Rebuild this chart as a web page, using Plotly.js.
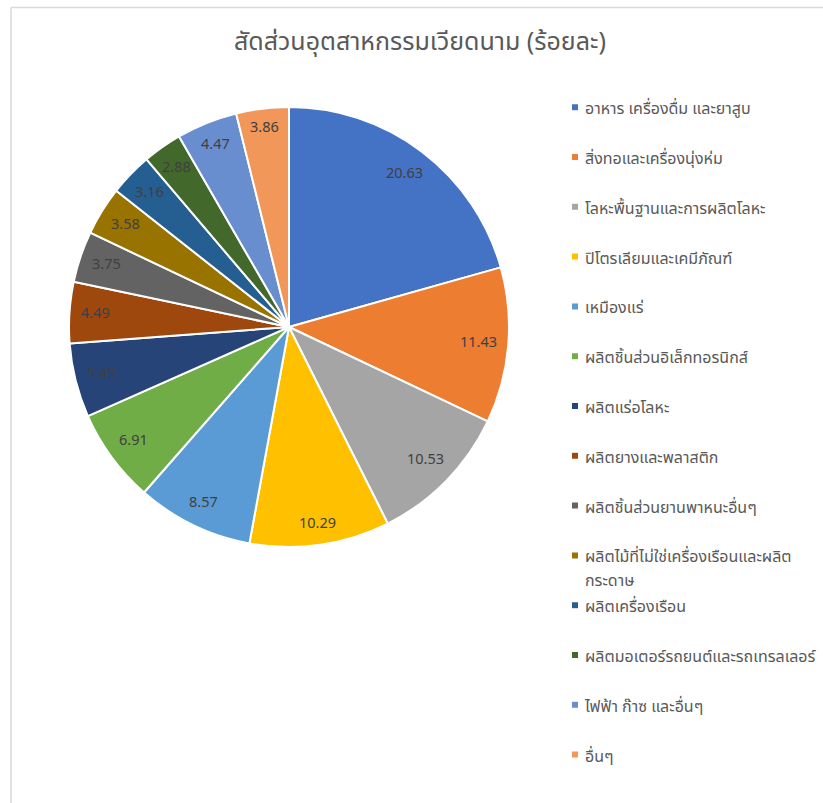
<!DOCTYPE html>
<html>
<head>
<meta charset="utf-8">
<script src="https://cdn.plot.ly/plotly-3.0.1.min.js"></script>
<style>html,body{margin:0;padding:0;background:#fff;}#chart{width:823px;height:803px;}</style>
</head>
<body>
<div id="chart"></div>
<script>
const chartTitle = 'สัดส่วนอุตสาหกรรมเวียดนาม (ร้อยละ)';
const categories = [
  'อาหาร เครื่องดื่ม และยาสูบ',
  'สิ่งทอและเครื่องนุ่งห่ม',
  'โลหะพื้นฐานและการผลิตโลหะ',
  'ปิโตรเลียมและเคมีภัณฑ์',
  'เหมืองแร่',
  'ผลิตชิ้นส่วนอิเล็กทอรนิกส์',
  'ผลิตแร่อโลหะ',
  'ผลิตยางและพลาสติก',
  'ผลิตชิ้นส่วนยานพาหนะอื่นๆ',
  'ผลิตไม้ที่ไม่ใช่เครื่องเรือนและผลิต<br>กระดาษ',
  'ผลิตเครื่องเรือน',
  'ผลิตมอเตอร์รถยนต์และรถเทรลเลอร์',
  'ไฟฟ้า ก๊าซ และอื่นๆ',
  'อื่นๆ'
];
const values = [20.63, 11.43, 10.53, 10.29, 8.57, 6.91, 5.45, 4.49, 3.75, 3.58, 3.16, 2.88, 4.47, 3.86];
const colors = ['#4472C4', '#ED7D31', '#A5A5A5', '#FFC000', '#5B9BD5', '#70AD47', '#264478',
                '#9E480E', '#636363', '#997300', '#255E91', '#43682B', '#698ED0', '#F1975A'];

const W = 823, H = 803;
const FONT = '"Noto Sans Thai", Tahoma, "Leelawadee UI", "Noto Sans", "DejaVu Sans", sans-serif';
// pie geometry (pixels)
const CX = 289, CY = 327, R = 220;
const dom = {
  x: [(CX - R) / W, (CX + R) / W],
  y: [1 - (CY + R) / H, 1 - (CY - R) / H]
};

// legend entries: each takes two line slots so the spacing matches the reference
const legendLabels = categories.map(c => {
  const parts = c.split('<br>');
  const spans = parts.map(p => '<span style="font-size:16px">' + p + '</span>');
  return spans.join('<br>') + (parts.length === 1 ? '<br> ' : '');
});

const trace = {
  type: 'pie',
  labels: legendLabels,
  values: values,
  sort: false,
  direction: 'clockwise',
  rotation: 0,
  textinfo: 'none',
  hoverinfo: 'value+percent',
  marker: { colors: colors, line: { color: '#ffffff', width: 2 } },
  domain: dom
};

// data labels placed at Excel-like positions near the rim, derived from the values
const total = values.reduce((a, b) => a + b, 0);
let cum = 0;
const annotations = values.map(v => {
  const mid = 2 * Math.PI * (cum + v / 2) / total;
  cum += v;
  const txt = v.toFixed(2);
  const halfW = txt.length * 3.9, halfH = 8;
  const d = R - 10 - (Math.abs(Math.sin(mid)) * halfW + Math.abs(Math.cos(mid)) * halfH);
  const px = CX + d * Math.sin(mid), py = CY - d * Math.cos(mid);
  return {
    xref: 'paper', yref: 'paper', x: px / W, y: 1 - py / H,
    xanchor: 'center', yanchor: 'middle', showarrow: false,
    text: txt, font: { family: FONT, size: 14.5, color: '#404040' }
  };
});

const layout = {
  width: W, height: H,
  margin: { l: 0, r: 0, t: 0, b: 0 },
  paper_bgcolor: '#ffffff',
  font: { family: FONT, color: '#595959' },
  title: {
    text: chartTitle,
    font: { family: FONT, size: 25, color: '#595959' },
    x: 420 / W, xanchor: 'center', y: 1 - 41 / H, yanchor: 'middle'
  },
  showlegend: true,
  legend: {
    x: 545 / W, xanchor: 'left',
    y: 1 - 89 / H, yanchor: 'top',
    valign: 'top',
    font: { family: FONT, size: 18, color: '#595959' },
    bgcolor: 'rgba(0,0,0,0)'
  },
  annotations: annotations,
  shapes: [
    { type: 'line', xref: 'paper', yref: 'paper', x0: 11 / W, x1: 1, y0: 1 - 7.5 / H, y1: 1 - 7.5 / H,
      line: { color: '#D9D9D9', width: 1.5 } },
    { type: 'line', xref: 'paper', yref: 'paper', x0: 11 / W, x1: 11 / W, y0: 0, y1: 1 - 7.5 / H,
      line: { color: '#D9D9D9', width: 1.5 } }
  ]
};

Plotly.newPlot('chart', [trace], layout, { displayModeBar: false, staticPlot: true }).then(gd => {
  // smaller legend squares closer to the text, like the reference
  gd.querySelectorAll('.legend .legendpoints path').forEach(p => {
    p.setAttribute('transform', 'translate(30,0) scale(0.6)');
  });
});
</script>
</body>
</html>
